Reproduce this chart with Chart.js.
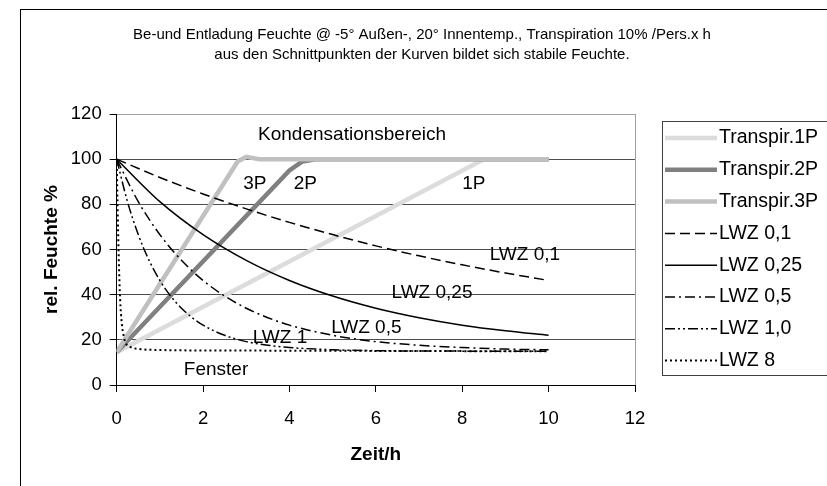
<!DOCTYPE html>
<html lang="de">
<head>
<meta charset="utf-8">
<title>Be- und Entladung Feuchte</title>
<script src="https://cdn.jsdelivr.net/npm/chart.js@4.4.1/dist/chart.umd.min.js"></script>
<style>
  html, body { margin: 0; padding: 0; background: #fff; }
  canvas { display: block; }
</style>
</head>
<body>
<canvas id="feuchteChart" width="827" height="486"></canvas>
<script>
(function () {
    'use strict';

    // -------- Daten --------
    const TITEL = [
        'Be-und Entladung Feuchte @ -5° Außen-, 20° Innentemp., Transpiration 10% /Pers.x h',
        'aus den Schnittpunkten der Kurven bildet sich stabile Feuchte.'
    ];
    const X_TITEL = 'Zeit/h';
    const Y_TITEL = 'rel. Feuchte %';
    const X_TICKS = [0, 2, 4, 6, 8, 10, 12];
    const Y_TICKS = [0, 20, 40, 60, 80, 100, 120];

    const SERIEN = ['Transpir.1P', 'Transpir.2P', 'Transpir.3P', 'LWZ 0,1', 'LWZ 0,25', 'LWZ 0,5', 'LWZ 1,0', 'LWZ 8'];

    // Transpiration (Feuchteanstieg)
    const zeit1P = [0, 8.5, 10];
    const rf1P = [14.5, 100, 100];
    const zeit2P = [0, 4.0, 4.3, 4.6, 10];
    const rf2P = [14.5, 95, 99, 100, 100];
    const zeit3P = [0, 2.8, 3.0, 3.3, 10];
    const rf3P = [14.5, 99, 101, 100, 100];

    // Lüftung (Feuchteabfall)
    const zeitLwz01 = [0, 1, 2, 3, 4, 5, 6, 7, 8, 9, 10];
    const rfLwz01 = [100, 91.9, 84.6, 78.0, 72.0, 66.6, 61.6, 57.2, 53.2, 49.6, 46.3];
    const zeitLwz025 = [0, 1, 2, 3, 4, 5, 6, 7, 8, 9, 10];
    const rfLwz025 = [100, 81.2, 66.6, 55.2, 46.3, 39.4, 34.0, 29.8, 26.5, 24.0, 22.0];
    const zeitLwz05 = [0, 0.5, 1, 1.5, 2, 2.5, 3, 3.5, 4, 5, 6, 7, 8, 9, 10];
    const rfLwz05 = [100, 81.2, 66.6, 55.2, 46.3, 39.4, 34.0, 29.8, 26.5, 22.0, 19.2, 17.6, 16.6, 15.9, 15.6];
    const zeitLwz1 = [0, 0.25, 0.5, 0.75, 1, 1.25, 1.5, 1.75, 2, 2.5, 3, 3.5, 4, 5, 6, 8, 10];
    const rfLwz1 = [100, 81.2, 66.6, 55.2, 46.3, 39.4, 34.0, 29.8, 26.5, 22.0, 19.2, 17.6, 16.6, 15.6, 15.2, 15.0, 15.0];
    const zeitLwz8 = [0, 0.02, 0.05, 0.08, 0.12, 0.16, 0.2, 0.3, 0.5, 1, 2, 4, 6, 8, 10];
    const rfLwz8 = [100, 80, 55, 38, 27, 22, 19, 17, 16, 15.5, 15.3, 15.2, 15.1, 15.0, 15.0];

    // Beschriftungen im Diagramm
    const BESCHRIFTUNG = ['Kondensationsbereich', '3P', '2P', '1P', 'LWZ 0,1', 'LWZ 0,25', 'LWZ 0,5', 'LWZ 1', 'Fenster'];

    // -------- Stil / Positionen --------
    const FONT = '"Liberation Sans", Arial, Helvetica, sans-serif';
    const BESCHRIFTUNG_POS = [[5.45, 110.6], [3.2, 89], [4.37, 89], [8.27, 89], [9.45, 57.5], [7.3, 40.7], [5.78, 25.2], [3.78, 20.8], [2.3, 6.6]];

    const STIL = [
        { color: '#dcdcdc', width: 4.5, dash: [], order: 4 },
        { color: '#808080', width: 4.5, dash: [], order: 3 },
        { color: '#c0c0c0', width: 4.5, dash: [], order: 2 },
        { color: '#000000', width: 1.5, dash: [10, 5], order: 1 },
        { color: '#000000', width: 1.5, dash: [], order: 1 },
        { color: '#000000', width: 1.5, dash: [10, 4, 2, 4], order: 1 },
        { color: '#000000', width: 1.5, dash: [10, 3, 2, 3, 2, 3], order: 1 },
        { color: '#000000', width: 2, dash: [2, 3], order: 1 }
    ];

    const LEG = { left: 662.5, top: 121.5, bottom: 375.5, x0: 665, x1: 717, textX: 719, y0: 138, step: 31.8 };

    const punkte = (xs, ys) => xs.map((x, i) => ({ x, y: ys[i] }));

    const reihen = [
        punkte(zeit1P, rf1P), punkte(zeit2P, rf2P), punkte(zeit3P, rf3P),
        punkte(zeitLwz01, rfLwz01), punkte(zeitLwz025, rfLwz025), punkte(zeitLwz05, rfLwz05),
        punkte(zeitLwz1, rfLwz1), punkte(zeitLwz8, rfLwz8)
    ];

    const datasets = SERIEN.map((name, i) => ({
        label: name,
        data: reihen[i],
        borderColor: STIL[i].color,
        borderWidth: STIL[i].width,
        borderDash: STIL[i].dash,
        order: STIL[i].order,
        pointRadius: 0,
        fill: false,
        tension: 0,
        cubicInterpolationMode: i >= 3 ? 'monotone' : 'default'
    }));

    // -------- Rahmen, Titel, Legende, Beschriftung --------
    const extras = {
        id: 'extras',
        afterDatasetsDraw(chart) {
            const c = chart.ctx;
            const xs = chart.scales.x, ys = chart.scales.y;
            c.save();
            c.fillStyle = '#000';
            c.font = `19px ${FONT}`;
            c.textAlign = 'center';
            c.textBaseline = 'middle';
            BESCHRIFTUNG.forEach((t, i) => {
                const [vx, vy] = BESCHRIFTUNG_POS[i];
                c.fillText(t, xs.getPixelForValue(vx), ys.getPixelForValue(vy));
            });
            c.restore();
        },
        afterDraw(chart) {
            const c = chart.ctx;
            c.save();
            // Außenrahmen (rechts/unten abgeschnitten)
            c.strokeStyle = '#000';
            c.lineWidth = 1;
            c.strokeRect(20.5, 9.5, 900, 600);

            // Titel
            c.fillStyle = '#000';
            c.font = `15px ${FONT}`;
            c.textAlign = 'center';
            c.textBaseline = 'middle';
            TITEL.forEach((t, i) => c.fillText(t, 422, 35 + i * 20));

            // Legende
            c.strokeStyle = '#404040';
            c.strokeRect(LEG.left, LEG.top, 400, LEG.bottom - LEG.top);
            c.font = `19.5px ${FONT}`;
            c.textAlign = 'left';
            chart.data.datasets.forEach((ds, i) => {
                const y = LEG.y0 + i * LEG.step;
                c.beginPath();
                c.setLineDash(ds.borderDash || []);
                c.lineWidth = ds.borderWidth;
                c.strokeStyle = ds.borderColor;
                c.moveTo(LEG.x0, y);
                c.lineTo(LEG.x1, y);
                c.stroke();
                c.setLineDash([]);
                c.fillText(ds.label, LEG.textX, y);
            });
            c.restore();
        }
    };

    new Chart(document.getElementById('feuchteChart'), {
        type: 'line',
        data: { datasets },
        plugins: [extras],
        options: {
            responsive: false,
            animation: false,
            devicePixelRatio: 1,
            layout: { padding: { top: 114, right: 192, bottom: 0, left: 20 } },
            plugins: {
                legend: { display: false },
                title: { display: false },
                tooltip: { enabled: false }
            },
            scales: {
                x: {
                    type: 'linear',
                    min: X_TICKS[0],
                    max: X_TICKS[X_TICKS.length - 1],
                    afterBuildTicks: s => { s.ticks = X_TICKS.map(v => ({ value: v })); },
                    grid: {
                        drawOnChartArea: true,
                        color: c => (c.tick && c.tick.value === 12 ? '#a0a0a0' : 'rgba(0,0,0,0)'),
                        tickColor: '#000',
                        tickLength: 7
                    },
                    border: { display: true, color: '#000', width: 1 },
                    ticks: { color: '#000', padding: 16, font: { family: FONT, size: 18.5 } },
                    title: {
                        display: true, text: X_TITEL, color: '#000',
                        font: { family: FONT, size: 19, weight: 'bold' },
                        padding: { top: -3, bottom: 20 }
                    }
                },
                y: {
                    type: 'linear',
                    min: Y_TICKS[0],
                    max: Y_TICKS[Y_TICKS.length - 1],
                    afterBuildTicks: s => { s.ticks = Y_TICKS.map(v => ({ value: v })); },
                    grid: {
                        color: c => (c.tick && c.tick.value === 120 ? '#a0a0a0' : '#4d4d4d'),
                        tickColor: '#000',
                        tickLength: 7
                    },
                    border: { display: true, color: '#000', width: 1 },
                    ticks: { color: '#000', padding: 8, font: { family: FONT, size: 18.5 } },
                    title: {
                        display: true, text: Y_TITEL, color: '#000',
                        font: { family: FONT, size: 19, weight: 'bold' },
                        padding: { top: 20, bottom: 0 }
                    }
                }
            }
        }
    });
})();
</script>
</body>
</html>
